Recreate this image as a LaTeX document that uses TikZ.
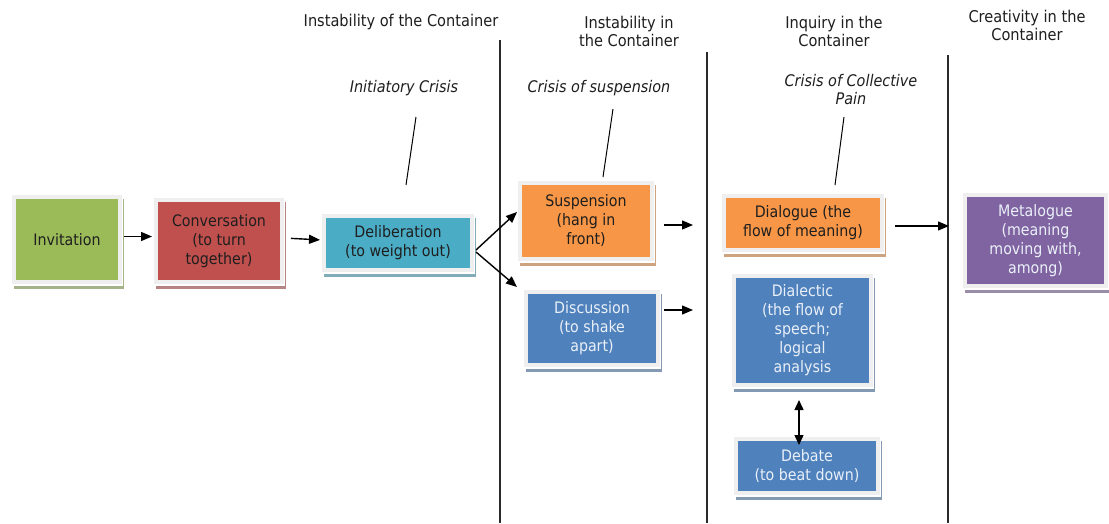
\documentclass[tikz,border=0pt]{standalone}
\usepackage{fontspec}
\setmainfont{DejaVu Sans Condensed}
\usetikzlibrary{arrows.meta,calc}
\definecolor{cgreen}{HTML}{9BBB59}
\definecolor{cred}{HTML}{C0504D}
\definecolor{cteal}{HTML}{4BACC6}
\definecolor{corange}{HTML}{F79646}
\definecolor{cblue}{HTML}{4F81BD}
\definecolor{cpurple}{HTML}{8064A2}
\definecolor{framec}{HTML}{EFEFEF}
\definecolor{txtd}{HTML}{1E1E1E}
\definecolor{txtl}{HTML}{EAF0F8}
\definecolor{linec}{HTML}{2A2A2A}
\tikzset{
  framebox/.style={draw=framec, line width=4pt, inner sep=0pt, align=center,
    font=\fontsize{15.8}{19}\selectfont},
  head/.style={align=center, text=txtd, font=\fontsize{16.2}{18}\selectfont, inner sep=0pt},
  crisis/.style={align=center, text=txtd, font=\fontsize{16}{18}\selectfont\itshape, inner sep=0pt},
  arr/.style={line width=1.4pt, draw=black, -{Triangle[length=11pt,width=9pt]}},
  dbl/.style={line width=1.4pt, draw=black, {Triangle[length=10pt,width=9pt]}-{Triangle[length=10pt,width=9pt]}},
  vline/.style={line width=1.2pt, draw=linec},
  tick/.style={line width=1pt, draw=black},
}
% name, cx, cy, w, h, fill, text colour, text
\newcommand\cbox[8]{%
  \fill[#6!55!gray!80!white] ({#2-#4/2-2},{#3-#5/2}) rectangle ({#2+#4/2+6},{#3+#5/2+9});
  \fill[white] ({#2-#4/2-3},{#3-#5/2-2}) rectangle ({#2+#4/2+5},{#3+#5/2+6});
  \node[framebox, fill=#6, text=#7, minimum width={(#4+4)*1pt}, minimum height={(#5+4)*1pt}] (#1) at (#2,#3) {#8};
}
\begin{document}
\begin{tikzpicture}[x=1pt,y=-1pt]
\path[use as bounding box, fill=white] (0,0) rectangle (1109,523);

% vertical separators
\coordinate (v1t) at (500,40);  \coordinate (v1b) at (500,523);
\coordinate (v2t) at (707,52);  \coordinate (v2b) at (707,523);
\coordinate (v3t) at (948,55);  \coordinate (v3b) at (948,523);
\draw[vline] (v1t) -- (v1b);
\draw[vline] (v2t) -- (v2b);
\draw[vline] (v3t) -- (v3b);

% headers
\node[head] (h1) at (401,22) {Instability of the Container};
\node[head] (h2) at (629,31.5) {Instability in\\the Container};
\node[head] (h3) at (834,31) {Inquiry in the\\Container};
\node[head] (h4) at (1027,25) {Creativity in the\\Container};

% crisis labels
\node[crisis] (c1) at (404,88) {Initiatory Crisis};
\node[crisis] (c2) at (599,88) {Crisis of suspension};
\node[crisis] (c3) at (851,90) {Crisis of Collective\\Pain};

% tick lines
\coordinate (t1a) at (416,117); \coordinate (t1b) at (406,185);
\coordinate (t2a) at (613,109); \coordinate (t2b) at (603,177);
\coordinate (t3a) at (844,117); \coordinate (t3b) at (835,185);
\draw[tick] (t1a) -- (t1b);
\draw[tick] (t2a) -- (t2b);
\draw[tick] (t3a) -- (t3b);

% boxes
\cbox{inv}{67}{239.5}{102}{81}{cgreen}{txtd}{Invitation}
\cbox{conv}{219}{241}{122}{78}{cred}{txtd}{Conversation\\(to turn\\together)}
\cbox{delib}{398}{243}{144}{50}{cteal}{txtd}{Deliberation\\(to weight out)}
\cbox{susp}{586}{221}{128}{72}{corange}{txtd}{Suspension\\(hang in\\front)}
\cbox{disc}{592}{328.5}{128}{69}{cblue}{txtl}{Discussion\\(to shake\\apart)}
\cbox{dial}{803}{223}{154}{50}{corange}{txtd}{Dialogue (the\\flow of meaning)}
\cbox{dlec}{802.5}{330.5}{133}{105}{cblue}{txtl}{Dialectic\\(the flow of\\speech;\\logical\\analysis}
\cbox{deb}{807}{466}{138}{50}{cblue}{txtl}{Debate\\(to beat down)}
\cbox{meta}{1035.5}{240.5}{137}{87}{cpurple}{txtl}{Metalogue\\(meaning\\moving with,\\among)}

% connectors
\draw[arr] ([xshift=2pt,yshift=3pt]inv.east) -- ([xshift=-2pt,yshift=3pt]inv.east -| conv.west);
\draw[arr, shorten <=7pt, shorten >=2pt] ([yshift=3pt]conv.east) -- ([yshift=3pt]delib.west);
\draw[arr] ([xshift=2pt,yshift=-7pt]delib.east) -- ([xshift=-1pt,yshift=9pt]susp.west);
\draw[arr] ([xshift=2pt,yshift=-9pt]delib.east) -- ([xshift=-7pt,yshift=3pt]disc.north west);
\coordinate (sE) at (693,225);
\coordinate (dE) at (693,310);
\draw[arr] ([xshift=10pt,yshift=-4pt]susp.east) -- (sE);
\draw[arr] ([xshift=4pt,yshift=18.5pt]disc.east) -- (dE);
\draw[arr, shorten >=25pt] ([xshift=11pt,yshift=-3pt]dial.east) -- ([xshift=11pt,yshift=-3pt]dial.east -| meta.west);
\draw[dbl, shorten >=5pt] ([xshift=-3.5pt,yshift=-13pt]dlec.south) -- ([xshift=-3.5pt,yshift=-13pt]dlec.south |- deb.north);
\end{tikzpicture}
\end{document}
